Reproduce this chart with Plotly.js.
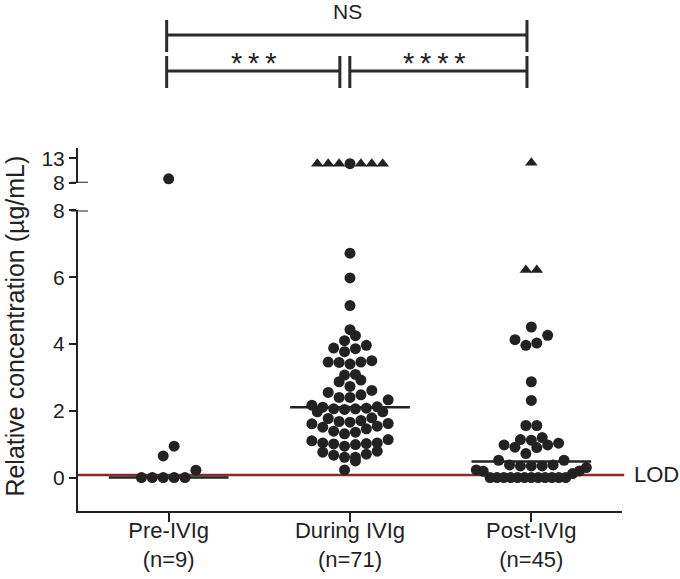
<!DOCTYPE html>
<html><head><meta charset="utf-8">
<script src="https://cdn.plot.ly/plotly-3.0.1.min.js"></script>
<style>html,body{margin:0;padding:0;background:#fff;}</style>
</head><body><div id="chart" style="width:680px;height:579px;"></div>
<script>
// ---------- data ----------
const categories = ['Pre-IVIg', 'During IVIg', 'Post-IVIg'];
const counts = ['n=9', 'n=71', 'n=45'];

const preCircles = [0, 0, 0, 0, 0, 0.22, 0.94, 0.65];
const preCirclesHigh = [8.8];
const preTriangles = [];
const preTrianglesHigh = [];

const duringCircles = [0.23, 0.50, 0.61, 0.61, 0.67, 0.70, 0.76, 0.79, 0.94, 0.99, 1.01, 1.02, 1.04, 1.04, 1.10, 1.14,
  1.31, 1.36, 1.39, 1.46, 1.51, 1.54, 1.61, 1.62, 1.66, 1.68, 1.71, 1.77, 1.79, 1.97, 1.97,
  2.04, 2.06, 2.06, 2.08, 2.11, 2.12, 2.17, 2.33, 2.40, 2.40, 2.48, 2.55, 2.61, 2.73, 2.87, 2.92,
  3.07, 3.09, 3.40, 3.45, 3.46, 3.46, 3.50, 3.77, 3.86, 3.88, 3.96, 4.10, 4.25, 4.43, 5.15, 5.98, 6.72];
const duringCirclesHigh = [11.9];
const duringTriangles = [];
const duringTrianglesHigh = [11.9, 11.9, 11.9, 11.9, 11.9, 11.9];

const postCircles = [0, 0, 0, 0, 0, 0, 0, 0, 0, 0, 0, 0, 0.12, 0.19, 0.20, 0.23, 0.30,
  0.35, 0.35, 0.35, 0.38, 0.38, 0.52, 0.52, 0.72, 0.90, 0.91, 0.98, 0.98, 1.03, 1.12, 1.14, 1.20,
  1.56, 1.56, 2.31, 2.87, 3.96, 4.03, 4.13, 4.26, 4.51];
const postCirclesHigh = [];
const postTriangles = [6.22, 6.22];
const postTrianglesHigh = [12.1];

const medians = [0, 2.11, 0.48];
const lod = 0.08;
const lowerTicks = [0, 2, 4, 6, 8];
const upperTicks = [8, 13];
const comparisonLabels = ['NS', '*\u2009*\u2009*', '*\u2009*\u2009*\u2009*'];

// ---------- layout constants ----------
const W = 680, H = 579;
const M = {l: 78, r: 58, t: 148, b: 68};
const plotW = W - M.l - M.r, plotH = H - M.t - M.b;
const xRange = [-0.5, 2.5];
const lowDomain = [0, 0.828], highDomain = [0.9044, 1];
const lowRange = [-1, 8], highRange = [8, 15.1];
const pxPerX = plotW / (xRange[1] - xRange[0]);
const dotPx = 10.9, maxHalfPx = 55;
const ink = '#222222';
const FONT = 'Liberation Sans, Arial, sans-serif';

// Prism-like scatter-dot arrangement: points grouped into rows, rows centred
function swarm(items, rowH) {
  const sorted = items.slice().sort((a, b) => a.v - b.v || (a.sym === 'circle' ? -1 : 1) - (b.sym === 'circle' ? -1 : 1));
  const rows = []; let cur = null;
  sorted.forEach(it => {
    if (!cur || it.v >= cur.start + rowH) { cur = {start: it.v, items: []}; rows.push(cur); }
    cur.items.push(it);
  });
  rows.forEach(row => {
    const n = row.items.length;
    const s = n > 1 ? Math.min(dotPx, 2 * maxHalfPx / (n - 1)) : 0;
    const slots = [];
    for (let k = 0; k < n; k++) slots.push((k - (n - 1) / 2) * s);
    slots.sort((a, b) => Math.abs(a) - Math.abs(b) || a - b);
    row.items.forEach((it, k) => { it.off = slots[k]; });
  });
  return sorted;
}

const groups = [
  {low: [preCircles, preTriangles], high: [preCirclesHigh, preTrianglesHigh]},
  {low: [duringCircles, duringTriangles], high: [duringCirclesHigh, duringTrianglesHigh]},
  {low: [postCircles, postTriangles], high: [postCirclesHigh, postTrianglesHigh]}
];

const buckets = {
  'y-circle': {x: [], y: []}, 'y-triangle-up': {x: [], y: []},
  'y2-circle': {x: [], y: []}, 'y2-triangle-up': {x: [], y: []}
};
groups.forEach((g, gi) => {
  [['y', g.low, 0.33], ['y2', g.high, 100]].forEach(([ax, arrs, rowH]) => {
    const items = arrs[0].map(v => ({v, sym: 'circle'})).concat(arrs[1].map(v => ({v, sym: 'triangle-up'})));
    swarm(items, rowH).forEach(it => {
      const b = buckets[ax + '-' + it.sym];
      b.x.push(gi + it.off / pxPerX);
      b.y.push(it.v);
    });
  });
});

const traces = Object.keys(buckets).map(k => {
  const ax = k.split('-')[0], sym = k.slice(k.indexOf('-') + 1);
  return {
    type: 'scatter', mode: 'markers', x: buckets[k].x, y: buckets[k].y, yaxis: ax,
    marker: {symbol: sym, size: 11, color: ink, line: {width: 0}},
    cliponaxis: false, hoverinfo: 'skip', showlegend: false
  };
});

const shapes = [];
// LOD line
shapes.push({type: 'line', xref: 'paper', x0: 0, x1: 1.004, yref: 'y', y0: lod, y1: lod,
  line: {color: '#8b2a2a', width: 2.5}, layer: 'below'});
// median lines
medians.forEach((m, i) => shapes.push({type: 'line', xref: 'x', x0: i - 0.33, x1: i + 0.33, yref: 'y', y0: m, y1: m,
  line: {color: ink, width: 2.5}}));
// axis break marks
[['y', 8], ['y2', 8]].forEach(([ax, v]) => shapes.push({type: 'line', xref: 'paper', xsizemode: 'pixel', xanchor: 0,
  x0: -7, x1: 10, yref: ax, y0: v, y1: v, line: {color: ink, width: 2}}));
// significance brackets (pixel offsets above the plot top)
function bracket(xa, xb, yLine, yBar0, yBar1) {
  const base = {type: 'line', yref: 'paper', ysizemode: 'pixel', yanchor: 1, xref: 'x', line: {color: '#2a2a2a', width: 3}};
  shapes.push(Object.assign({}, base, {x0: xa, x1: xb, y0: yLine, y1: yLine}));
  shapes.push(Object.assign({}, base, {x0: xa, x1: xa, y0: yBar0, y1: yBar1}));
  shapes.push(Object.assign({}, base, {x0: xb, x1: xb, y0: yBar0, y1: yBar1}));
}
bracket(-0.011, 1.976, 113, 96, 128);
bracket(-0.011, 0.944, 77, 60, 92);
bracket(0.999, 1.976, 77, 60, 92);

const annotations = [
  {text: comparisonLabels[0], xref: 'x', x: 0.985, yref: 'paper', y: 1, yshift: 137, yanchor: 'middle',
   showarrow: false, font: {family: FONT, size: 21, color: ink}},
  {text: comparisonLabels[1], xref: 'x', x: 0.467, yref: 'paper', y: 1, yshift: 85, yanchor: 'middle',
   showarrow: false, font: {family: FONT, size: 29, color: ink}},
  {text: comparisonLabels[2], xref: 'x', x: 1.465, yref: 'paper', y: 1, yshift: 85, yanchor: 'middle',
   showarrow: false, font: {family: FONT, size: 29, color: ink}},
  {text: 'LOD', xref: 'paper', x: 1, xanchor: 'left', xshift: 10, yref: 'y', y: lod, yanchor: 'middle',
   showarrow: false, font: {family: FONT, size: 22, color: ink}},
  {text: 'Relative concentration (µg/mL)', xref: 'paper', x: 0, xshift: -63, yref: 'paper', y: 0.508,
   xanchor: 'center', yanchor: 'middle', textangle: -90, showarrow: false, font: {family: FONT, size: 25, color: ink}}
];

const axisStyle = {showline: true, linewidth: 2, linecolor: ink, ticks: 'outside', tickwidth: 2, tickcolor: ink,
  showgrid: false, zeroline: false, fixedrange: true, tickfont: {family: FONT, size: 21, color: ink}};

const layout = {
  width: W, height: H, margin: M, paper_bgcolor: '#fff', plot_bgcolor: '#fff', showlegend: false,
  font: {family: FONT, color: ink},
  xaxis: Object.assign({}, axisStyle, {range: xRange, tickvals: [0, 1, 2], ticklen: 9, ticklabelstandoff: -10,
    ticktext: categories.map((c, i) => c + '<br>(' + counts[i] + ')'), anchor: 'y', tickfont: {family: FONT, size: 22, color: ink}}),
  yaxis: Object.assign({}, axisStyle, {domain: lowDomain, range: lowRange, tickvals: lowerTicks, ticklen: 7, anchor: 'x'}),
  yaxis2: Object.assign({}, axisStyle, {domain: highDomain, range: highRange, tickvals: upperTicks, ticklen: 7, anchor: 'x'}),
  shapes, annotations
};

Plotly.newPlot('chart', traces, layout, {displayModeBar: false, staticPlot: true});
</script></body></html>
